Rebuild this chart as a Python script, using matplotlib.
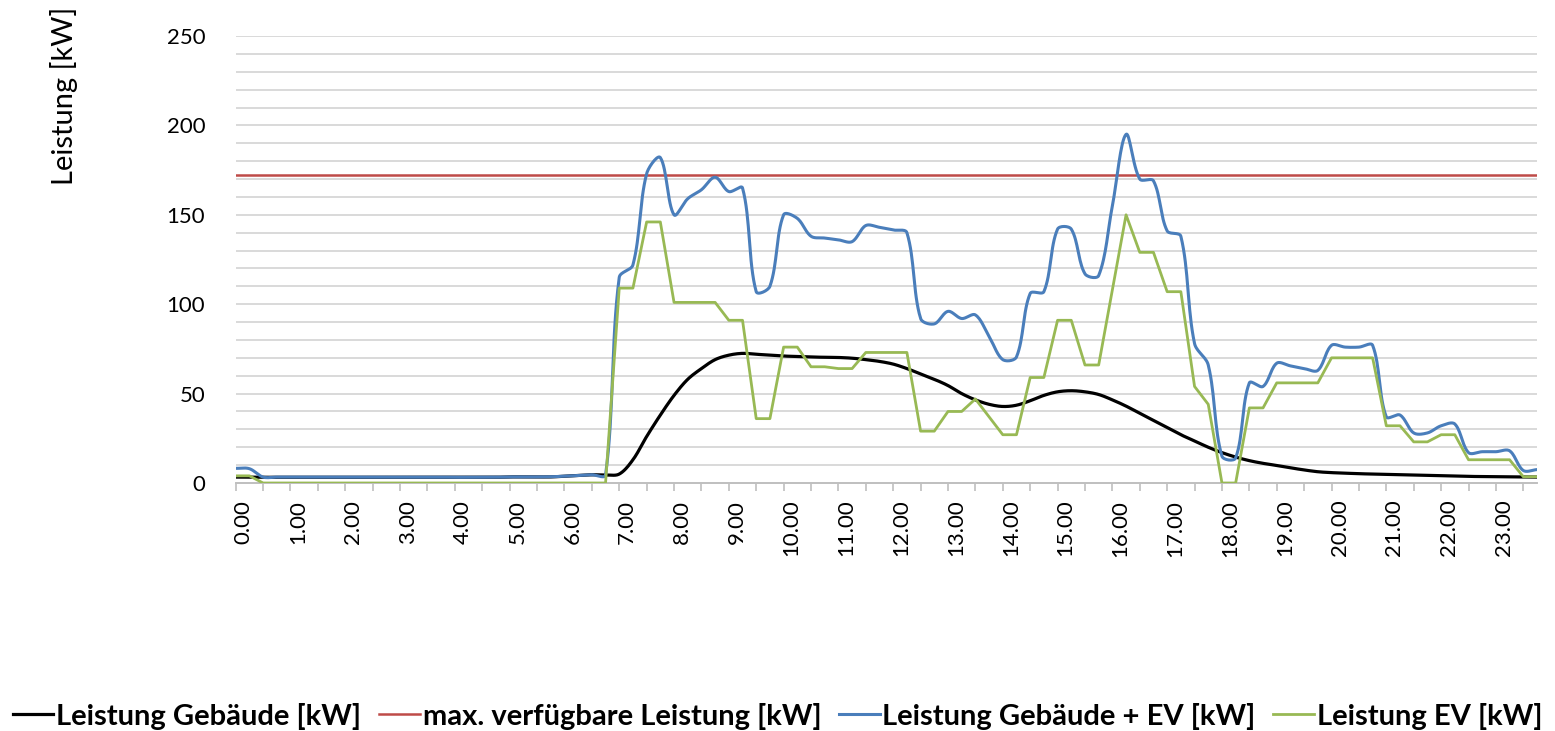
import numpy as np
import matplotlib
matplotlib.use("Agg")
import matplotlib.pyplot as plt
from matplotlib.ticker import MultipleLocator, FixedLocator
from matplotlib.transforms import ScaledTranslation

# 15-min steps, 0.00 .. 23.75
hours = [i * 0.25 for i in range(96)]
hour_labels = ["%d.00" % h for h in range(24)]

gebaeude = [3.3, 3.3, 3.2, 3.2, 3.2, 3.2, 3.2, 3.2, 3.2, 3.2, 3.2, 3.2,
            3.2, 3.2, 3.2, 3.2, 3.2, 3.2, 3.2, 3.2, 3.4, 3.4, 3.4, 3.4,
            3.8, 4.2, 4.6, 4.5, 5.0, 13.0, 26.0, 38.0, 49.0, 58.0, 64.0, 69.0,
            71.5, 72.5, 72.0, 71.5, 71.0, 70.8, 70.5, 70.3, 70.2, 69.8, 69.0, 68.0,
            66.5, 64.0, 61.0, 58.0, 54.5, 50.0, 46.5, 44.0, 42.8, 43.5, 46.0, 49.0,
            51.0, 51.6, 51.0, 49.5, 46.5, 43.0, 39.0, 35.0, 31.0, 27.0, 23.5, 20.0,
            17.0, 14.5, 12.5, 11.0, 9.8, 8.5, 7.3, 6.3, 5.8, 5.5, 5.2, 5.0,
            4.8, 4.6, 4.4, 4.2, 4.0, 3.9, 3.7, 3.6, 3.5, 3.4, 3.3, 3.3]

max_leistung = 172

gebaeude_ev = [8.2, 8.0, 3.3, 3.3, 3.3, 3.3, 3.3, 3.3, 3.3, 3.3, 3.3, 3.3,
               3.3, 3.3, 3.3, 3.3, 3.2, 3.2, 3.2, 3.2, 3.4, 3.4, 3.4, 3.5,
               3.8, 4.2, 4.6, 4.5, 115.0, 122.0, 173.0, 182.0, 150.0, 159.0, 164.0, 171.0,
               163.0, 165.0, 107.0, 110.0, 150.0, 148.0, 138.0, 137.0, 136.0, 135.0, 144.0, 143.0,
               141.5, 140.0, 92.0, 89.0, 96.0, 92.0, 94.0, 82.0, 69.0, 70.5, 106.0, 107.0,
               142.0, 142.0, 117.0, 116.0, 155.0, 195.0, 170.0, 169.0, 141.0, 138.0, 78.0, 66.0,
               15.0, 14.0, 56.0, 54.0, 67.0, 65.5, 64.0, 63.0, 77.0, 76.0, 76.0, 77.0,
               37.0, 38.0, 28.0, 28.0, 32.0, 33.0, 17.0, 17.5, 17.5, 18.0, 7.0, 7.5]

ev = [4, 4, 0, 0, 0, 0, 0, 0, 0, 0, 0, 0,
      0, 0, 0, 0, 0, 0, 0, 0, 0, 0, 0, 0,
      0, 0, 0, 0, 109, 109, 146, 146, 101, 101, 101, 101,
      91, 91, 36, 36, 76, 76, 65, 65, 64, 64, 73, 73,
      73, 73, 29, 29, 40, 40, 47, 37, 27, 27, 59, 59,
      91, 91, 66, 66, 108, 150, 129, 129, 107, 107, 54, 44,
      0, 0, 42, 42, 56, 56, 56, 56, 70, 70, 70, 70,
      32, 32, 23, 23, 27, 27, 13, 13, 13, 13, 3.5, 3.5]


def smooth(x, y, n=16, sx=54.8, sy=1.788):
    # bezier smoothing similar to Excel's smoothed line,
    # control points weighted by chord length (in pixel units)
    P = np.column_stack([np.asarray(x, float) * sx, np.asarray(y, float) * sy])
    m = len(P)
    d = np.hypot(*np.diff(P, axis=0).T)
    d = np.maximum(d, 1e-9)
    t = np.linspace(0, 1, n, endpoint=False)[:, None]
    pts = []
    f = 1.0 / 3.0
    for i in range(m - 1):
        p0 = P[i - 1] if i > 0 else P[i]
        p3 = P[i + 2] if i + 2 < m else P[i + 1]
        dl = d[i - 1] if i > 0 else 0.0
        dr = d[i + 1] if i + 2 < m else 0.0
        c1 = P[i] + (P[i + 1] - p0) * f * d[i] / (dl + d[i])
        c2 = P[i + 1] - (p3 - P[i]) * f * d[i] / (d[i] + dr)
        seg = ((1 - t) ** 3) * P[i] + 3 * ((1 - t) ** 2) * t * c1 \
            + 3 * (1 - t) * t ** 2 * c2 + t ** 3 * P[i + 1]
        pts.append(seg)
    pts.append(P[-1:])
    pts = np.vstack(pts)
    return pts[:, 0] / sx, pts[:, 1] / sy


plt.rcParams['font.family'] = ['Lato', 'DejaVu Sans']

fig = plt.figure(figsize=(15.55, 7.31), dpi=100)
ax = fig.add_axes([235.7 / 1555, 1 - 483 / 731, 1301.3 / 1555, 447 / 731])

grid_c = '#D9D9D9'
for v in range(10, 251, 10):
    ax.axhline(v, color=grid_c, lw=1.4, zorder=1)

sx, sy = smooth(hours, gebaeude)
ax.plot(sx, sy, color='black', lw=2.3, label='Leistung Gebäude [kW]', zorder=3)
ax.plot([hours[0], hours[-1]], [max_leistung, max_leistung], color='#BE4B48', lw=1.8,
        label='max. verfügbare Leistung [kW]', zorder=3)
sx, sy = smooth(hours, gebaeude_ev)
ax.plot(sx, sy, color='#4A7EBB', lw=2.2, label='Leistung Gebäude + EV [kW]', zorder=4)
ax.plot(hours, ev, color='#98B954', lw=2.0, label='Leistung EV [kW]', zorder=5)

ax.set_xlim(0, 23.75)
ax.set_ylim(0, 250)
ax.yaxis.set_major_locator(MultipleLocator(50))
ax.tick_params(axis='y', length=0, pad=22, labelsize=16)
ax.xaxis.set_major_locator(FixedLocator(range(24)))
ax.set_xticklabels(hour_labels, rotation=90)
ax.xaxis.set_minor_locator(MultipleLocator(0.5))
ax.tick_params(axis='x', which='both', length=6, width=1.2, color='#BFBFBF',
               labelsize=16, pad=6)
off = ScaledTranslation(8 / 100, 0, fig.dpi_scale_trans)
for lab in ax.get_xticklabels():
    lab.set_transform(lab.get_transform() + off)

for s in ['top', 'right', 'left']:
    ax.spines[s].set_visible(False)
ax.spines['bottom'].set_color('#BFBFBF')
ax.spines['bottom'].set_linewidth(1.4)

fig.text(64 / 1555, 1 - 96 / 731, 'Leistung [kW]', rotation=90, fontsize=21,
         ha='center', va='center')

fig.legend(loc='center', bbox_to_anchor=(0.5, 1 - 716 / 731), ncol=4, frameon=False,
           prop={'weight': 'bold', 'size': 21}, handlelength=1.4, handletextpad=0.1,
           columnspacing=0.6)

fig.savefig('out.png', dpi=100)
